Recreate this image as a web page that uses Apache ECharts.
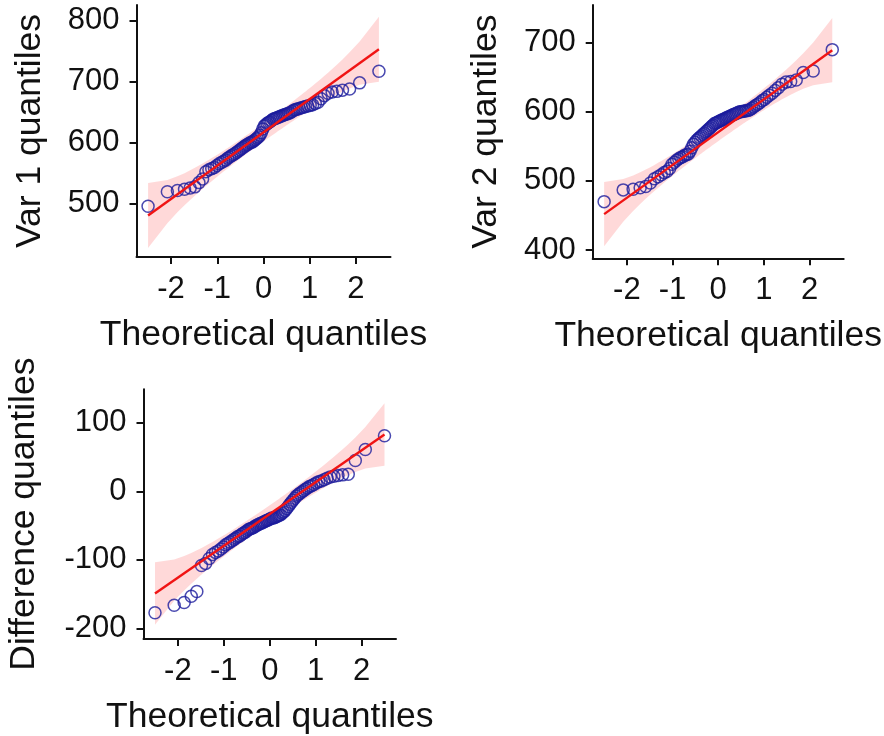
<!DOCTYPE html>
<html>
<head>
<meta charset="utf-8">
<script src="https://cdn.jsdelivr.net/npm/echarts/dist/echarts.min.js"></script>
<style>
html,body{margin:0;padding:0;background:#fff;}
#chart{width:884px;height:736px;}
</style>
</head>
<body>
<div id="chart"></div>
<script>
// ---- Data (sorted sample quantiles, n = 80) ----
const var1Values = [495,519,521,523,525,527,534,540,552,555,
  557,559,562,565,567,569,571,574,576,578,
  580,582,584,586,588,590,592,594,596,597,
  599,600,601,603,605,607,609,612,616,622,
  627,629,631,633,634,636,638,639,640,641,
  642,643,644,645,646,647,648,649,651,653,
  654,655,656,657,658,659,660,661,662,664,
  666,672,677,681,683,684,686,688,698,717];
const var2Values = [470,487,488,490,492,497,503,506,509,512,
  514,518,524,527,530,532,534,535,537,538,
  539,543,548,553,556,559,561,563,565,567,
  569,571,573,575,577,579,581,583,584,585,
  586,587,588,589,590,591,592,593,594,595,
  596,597,598,599,600,600,601,601,602,602,
  603,605,607,609,611,613,616,618,621,624,
  627,631,635,640,643,644,646,657,659,690];
const diffValues = [-177,-166,-162,-153,-146,-108,-105,-98,-92,-89,
  -87,-84,-81,-78,-76,-74,-72,-70,-68,-66,
  -65,-63,-61,-60,-58,-56,-55,-54,-53,-52,
  -50,-49,-48,-47,-46,-45,-44,-43,-42,-41,
  -40,-39,-39,-38,-37,-36,-35,-34,-32,-30,
  -28,-25,-22,-19,-16,-13,-10,-7,-5,-3,
  -1,1,3,5,7,8,10,12,14,15,
  17,19,21,22,23,24,25,45,61,81];
// reference line [intercept, slope]
const var1Line = [616.6, 54.7];
const var2Line = [570.6, 47.5];
const diffLine = [-33.0, 46.4];
// axis titles and tick labels
const yTitles = ['Var 1 quantiles', 'Var 2 quantiles', 'Difference quantiles'];
const xTitle = 'Theoretical quantiles';
const xTicks = [-2, -1, 0, 1, 2];
const var1Ticks = [500, 600, 700, 800];
const var2Ticks = [400, 500, 600, 700];
const diffTicks = [-200, -100, 0, 100];
const var1Range = [411.7, 826];
const var2Range = [388, 754.6];
const diffRange = [-215.2, 148.7];
const xRange = [-2.748, 2.748];
const confLevel = 0.95;

// ---- normal quantile (Acklam) ----
function qnorm(p) {
  const a=[-3.969683028665376e+01,2.209460984245205e+02,-2.759285104469687e+02,1.383577518672690e+02,-3.066479806614716e+01,2.506628277459239e+00];
  const b=[-5.447609879822406e+01,1.615858368580409e+02,-1.556989798598866e+02,6.680131188771972e+01,-1.328068155288572e+01];
  const c=[-7.784894002430293e-03,-3.223964580411365e-01,-2.400758277161838e+00,-2.549732539343734e+00,4.374664141464968e+00,2.938163982698783e+00];
  const d=[7.784695709041462e-03,3.224671290700398e-01,2.445134137142996e+00,3.754408661907416e+00];
  const pl=0.02425, ph=1-pl; let q,r;
  if (p<pl){ q=Math.sqrt(-2*Math.log(p)); return (((((c[0]*q+c[1])*q+c[2])*q+c[3])*q+c[4])*q+c[5])/((((d[0]*q+d[1])*q+d[2])*q+d[3])*q+1); }
  if (p<=ph){ q=p-0.5; r=q*q; return (((((a[0]*r+a[1])*r+a[2])*r+a[3])*r+a[4])*r+a[5])*q/(((((b[0]*r+b[1])*r+b[2])*r+b[3])*r+b[4])*r+1); }
  q=Math.sqrt(-2*Math.log(1-p)); return -(((((c[0]*q+c[1])*q+c[2])*q+c[3])*q+c[4])*q+c[5])/((((d[0]*q+d[1])*q+d[2])*q+d[3])*q+1);
}
function dnorm(x){ return Math.exp(-x*x/2)/Math.sqrt(2*Math.PI); }

const font = 'Liberation Sans, Arial, Helvetica, sans-serif';
const ink = '#111111';
const ptColor = '#1c1c9c';

const panels = [
  {vals: var1Values, line: var1Line, ticks: var1Ticks, range: var1Range, grid:{left:136.5, top:5, width:254, height:252}, nameGap: 88},
  {vals: var2Values, line: var2Line, ticks: var2Ticks, range: var2Range, grid:{left:592.7, top:5, width:251, height:253.3}, nameGap: 88},
  {vals: diffValues, line: diffLine, ticks: diffTicks, range: diffRange, grid:{left:143.5, top:389.3, width:252.5, height:254}, nameGap: 101}
];

const grids=[], xAxes=[], yAxes=[], series=[];
panels.forEach((pn, k) => {
  const n = pn.vals.length;
  const probs = pn.vals.map((_, i) => (i + 0.5) / n);
  const xs = probs.map(qnorm);
  const zz = qnorm(1 - (1 - confLevel) / 2);
  const fit = xs.map(x => pn.line[0] + pn.line[1] * x);
  const se = xs.map((x, i) => pn.line[1] / dnorm(x) * Math.sqrt(probs[i] * (1 - probs[i]) / n));
  const upper = xs.map((x, i) => [x, fit[i] + zz * se[i]]);
  const lower = xs.map((x, i) => [x, fit[i] - zz * se[i]]);

  grids.push(Object.assign({containLabel:false}, pn.grid));
  xAxes.push({
    gridIndex:k, type:'value', min:xRange[0], max:xRange[1],
    axisLine:{show:true, onZero:false, lineStyle:{color:ink, width:2}},
    axisTick:{show:true, inside:false, length:7, customValues:xTicks, lineStyle:{color:ink, width:2}},
    axisLabel:{show:true, customValues:xTicks, fontSize:31, color:ink, fontFamily:font, margin:17},
    splitLine:{show:false},
    name:xTitle, nameLocation:'middle', nameGap:60,
    nameTextStyle:{fontSize:35.5, color:ink, fontFamily:font}
  });
  yAxes.push({
    gridIndex:k, type:'value', min:pn.range[0], max:pn.range[1],
    axisLine:{show:true, onZero:false, lineStyle:{color:ink, width:2}},
    axisTick:{show:true, inside:false, length:7, customValues:pn.ticks, lineStyle:{color:ink, width:2}},
    axisLabel:{show:true, customValues:pn.ticks, fontSize:31, color:ink, fontFamily:font, margin:17},
    splitLine:{show:false},
    name:yTitles[k], nameLocation:'middle', nameGap:pn.nameGap,
    nameTextStyle:{fontSize:35.5, color:ink, fontFamily:font}
  });
  const poly = upper.concat(lower.slice().reverse());
  series.push({
    type:'custom', xAxisIndex:k, yAxisIndex:k, silent:true, z:1,
    data:[[0, pn.line[0]]],
    renderItem: function(params, api){
      return {type:'polygon', shape:{points: poly.map(p => api.coord(p))}, style:{fill:'rgba(255,0,0,0.15)'}};
    }
  });
  series.push({
    type:'scatter', xAxisIndex:k, yAxisIndex:k, z:2, silent:true,
    symbol:'circle', symbolSize:12,
    data: xs.map((x, i) => [x, pn.vals[i]]),
    itemStyle:{color:'rgba(0,0,0,0)', borderColor:ptColor, borderWidth:1.5}
  });
  series.push({
    type:'line', xAxisIndex:k, yAxisIndex:k, z:3, silent:true,
    showSymbol:false, symbol:'none',
    data:[[xs[0], fit[0]], [xs[n-1], fit[n-1]]],
    lineStyle:{color:'#f01414', width:2.4}
  });
});

const chart = echarts.init(document.getElementById('chart'), null, {renderer:'canvas'});
chart.setOption({
  animation:false,
  backgroundColor:'#ffffff',
  grid:grids, xAxis:xAxes, yAxis:yAxes, series:series
});
</script>
</body>
</html>
